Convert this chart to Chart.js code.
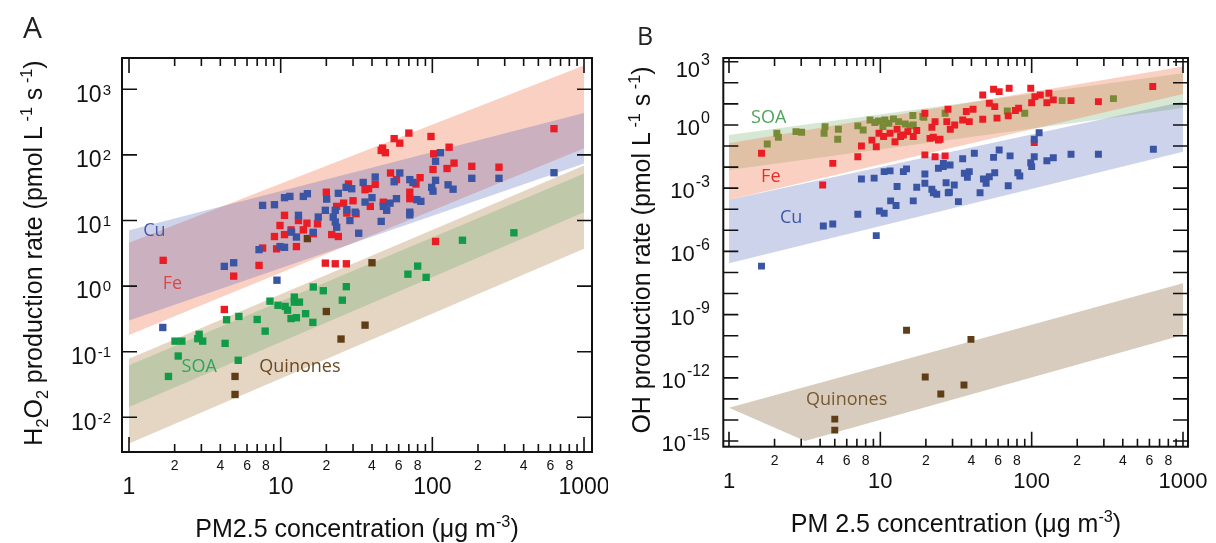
<!DOCTYPE html>
<html>
<head>
<meta charset="utf-8">
<script src="https://cdn.jsdelivr.net/npm/chart.js@4.4.1/dist/chart.umd.min.js"></script>
<style>
  html, body { margin: 0; padding: 0; background: #fff; }
  #wrap { position: relative; width: 1216px; height: 543px; }
  canvas { position: absolute; top: 0; }
</style>
</head>
<body>
<div id="wrap">
  <canvas id="chartA" width="608" height="543" style="left:0"></canvas>
  <canvas id="chartB" width="608" height="543" style="left:608px"></canvas>
</div>
<script>
// ---------- panel A : H2O2 production rate ----------
const feA = [[70,215],[98,191],[56,177],[61,151],[47,127],[46,117],[49,108],[129,131],[102,104],[139,75],
  [125,62],[101,60],[53,53],[83,45],[58,42],[78,36],[42,35.5],[36,29.5],[38,30.5],[28,36],[20,27],[71,27],
  [71,21.5],[30,20],[26,18.4],[23.4,16.4],[47.5,19],[39,16.4],[31.4,12.7],[27.3,13],[10.6,12],[13.1,10],
  [14.9,9.1],[17.5,8.9],[9.9,8.4],[11.7,7.2],[14.1,7.2],[10.6,6.1],[9.1,5.7],[16.4,6.3],[21.7,6.1],[24,5.7],
  [12.7,4.0],[7.6,3.8],[9.4,3.7],[7.2,2.07],[19.7,2.24],[22.9,2.19],[27.1,2.19],[105,4.8],[634,251],[182,67],
  [275,65],[1.68,2.47],[4.9,1.42],[4.25,0.44]];
const cuA = [[113,108],[105,80],[61,53],[56,39],[42,46],[35,38],[71,42],[74.5,38],[105,41],[99,32],[101,28],
  [127,35],[137,30],[27,32],[29.4,30.5],[24,26],[15,25.6],[14.1,23.3],[11.5,23.3],[10.6,22.3],[20.1,21.2],
  [40,22.3],[36,19.1],[58,21.5],[52.6,18.4],[47.5,16.4],[50,14.3],[79,20.8],[84,19.6],[71,13.4],[71,12.2],
  [27.3,14.6],[31,13.4],[22.9,14.3],[19.7,14.3],[22.2,11.3],[22.9,9.5],[23.4,7.9],[28.6,10],[17.7,11.3],
  [13.1,12],[9.1,17.4],[7.6,17],[46,9.7],[16.4,6.6],[32.7,6.4],[12.7,5.6],[11.8,6.65],[9.9,4.0],[10.6,3.9],
  [7.2,3.6],[4.9,2.27],[4.25,2.0],[9.45,1.23],[1.67,0.234],[634,53.5],[182,44],[275,44]];
const soaA = [[69,1.52],[80,2.02],[91,1.36],[158,5.0],[345,6.5],[16.4,0.97],[19.1,0.85],[27.1,0.98],[25.5,0.61],
  [8.5,0.59],[9.6,0.51],[10.7,0.49],[11.1,0.43],[12.3,0.68],[12.3,0.57],[13.3,0.57],[11.7,0.32],[12.7,0.33],
  [14.6,0.38],[16.3,0.28],[7.0,0.31],[7.9,0.206],[5.3,0.345],[4.4,0.307],[4.3,0.134],[2.9,0.184],[2.84,0.158],
  [3.06,0.145],[2.01,0.145],[2.23,0.145],[2.11,0.086],[5.25,0.074],[1.82,0.042]];
const quinA = [[15,5.3],[40,2.27],[20,0.41],[36,0.254],[25,0.156],[5.0,0.042],[5.0,0.0223]];

// model ranges (value at x = 1 and x = 1000)
const bandX = [1, 1000];
const feHiA = [4.6, 2300],  feLoA = [0.18, 126];
const cuHiA = [7.1, 434],   cuLoA = [0.3, 74];
const quHiA = [0.078, 69],  quLoA = [0.004, 3.7];
const soHiA = [0.062, 52],  soLoA = [0.0143, 13.4];

// ---------- panel B : OH production rate ----------
const soaB = [[1.79,0.125],[2.07,0.4],[2.12,0.26],[2.77,0.48],[3.02,0.45],[4.31,0.83],[4.25,0.4],[5.28,0.63],
  [5.23,0.21],[7.1,0.9],[7.7,0.58],[8.55,1.7],[9.7,1.55],[10.7,1.7],[12.2,1.9],[13.2,1.44],[14.6,1.11],
  [16.4,2.8],[16.5,1.0],[19.4,2.3],[10.4,0.83],[15.7,0.9],[19.1,2.5],[26.8,3.6],[69,4.6],[90,3.6],[159,14.2],
  [347,17.7],[9.2,1.3],[11.4,1.2]];
const feB = [[1.64,0.045],[4.85,0.015],[7.1,0.031],[7.5,0.1],[4.16,0.0014],[8.8,0.19],[9.4,0.093],[9.8,0.4],
  [10.5,0.28],[11.6,0.4],[12.5,0.16],[12.9,0.63],[13.6,0.28],[15.2,0.48],[16.5,0.28],[17.4,0.54],[19.7,3.6],
  [21.9,0.78],[23,1.44],[21.3,0.23],[24.2,0.19],[19.7,0.038],[23,0.031],[26.8,0.034],[631,66],[276,12.8],
  [182,14.2],[139,15.4],[126,11.4],[130,32],[114,26.5],[105,22],[98.6,55],[100,11.4],[71,55],[61,38],[56,49],
  [47.5,26.5],[52.5,10.7],[57,7.4],[41,5.6],[37,4.3],[28,5.6],[82,6.2],[70,2.7],[59,2.1],[47.5,1.87],
  [38.7,1.44],[35,1.7],[31,1.0],[27.5,1.44],[29,0.63],[24.8,0.21],[104,0.145],[14.2,0.33],[22.4,0.26],[78,4.8]];
const cuB = [[4.2,1.6e-5],[4.85,2e-5],[7.1,5.8e-5],[9.4,5.6e-6],[9.85,8.3e-5],[10.6,6.4e-5],[11.7,2.5e-4],
  [12.7,1.5e-4],[16.5,2.5e-4],[7.5,2.7e-3],[9.1,3e-3],[10.6,6.1e-3],[11.6,6.6e-3],[14.9,8.2e-3],[12.9,1.2e-3],
  [17.4,1.1e-3],[19.7,4.7e-3],[19.7,1.7e-3],[21.9,8.9e-4],[23.6,5.1e-4],[24.2,8.8e-3],[22.4,6.1e-4],
  [32.8,2.3e-4],[28.1,6.1e-4],[1.64,2e-7],[637,0.07],[276,0.041],[182,0.041],[139,0.028],[126,0.02],
  [104,0.031],[100,0.0105],[98.6,0.016],[112,0.43],[104,0.21],[81,0.0054],[83.5,0.0038],[72,0.034],
  [70,0.0013],[61,0.065],[56,0.029],[57,0.0054],[52.5,0.0035],[48,0.0027],[50,0.0017],[45.6,6.1e-4],
  [41.8,0.045],[38.7,0.0061],[37.6,0.0033],[35,0.025],[30.8,0.0014],[27.2,0.0018],[28.9,0.0126],
  [26.1,0.0105],[28.6,6.4e-4],[35.9,0.0051],[14.2,0.0061],[26.1,0.015]];
const quinB = [[5.0,1.1e-14],[5.0,3.3e-15],[14.9,1.8e-10],[39.7,6.7e-11],[19.8,1.1e-12],[35.7,4.6e-13],[25.1,1.7e-13]];

const feHiB = [0.135, 589],   feLoB = [2.8e-4, 29.7];
const soHiB = [0.335, 284],   soLoB = [0.0073, 6.3];
const cuHiB = [2.8e-4, 12.6], cuLoB = [2.7e-7, 0.054];
const quHiXB = [1, 1000],       quHiB = [3.8e-14, 3.1e-8];
const quLoXB = [1, 3.18, 1000], quLoB = [3.8e-14, 1e-15, 1.07e-10];

// tick labels
const yExpA = [3, 2, 1, 0, -1, -2];
const yExpB = [3, 0, -3, -6, -9, -12, -15];
const yTicksB = [3,2,1,0,-1,-2,-3,-4,-5,-6,-7,-8,-9,-10,-11,-12,-13,-14,-15];
const xMajor = [1, 10, 100, 1000];
const xMinorLab = [2, 4, 6, 8];

const HELV = '"Liberation Sans", Arial, sans-serif';
const MYR = '"Open Sans", "Noto Sans", sans-serif';

function toXY(arr) { return arr.map(([x, y]) => ({ x, y })); }

function pts(arr, color, order, r) {
  return { type: 'scatter', data: toXY(arr), pointStyle: 'rect', pointRadius: r, pointHoverRadius: r,
    backgroundColor: color, borderWidth: 0, order };
}

function band(xHi, hi, xLo, lo, color, order) {
  return [
    { type: 'line', data: xHi.map((x, i) => ({ x, y: hi[i] })), fill: '+1', backgroundColor: color,
      borderColor: 'transparent', borderWidth: 0, pointRadius: 0, showLine: true, order },
    { type: 'line', data: xLo.map((x, i) => ({ x, y: lo[i] })), fill: false,
      borderColor: 'transparent', borderWidth: 0, pointRadius: 0, showLine: true, order }
  ];
}

function drawRich(ctx, segs, x, y, size, fam) {
  segs.forEach(([t, s]) => {
    const fs = s ? size * 0.65 : size;
    ctx.font = fs + 'px ' + fam;
    const dy = s === 1 ? -size * 0.42 : (s === -1 ? size * 0.24 : 0);
    ctx.fillText(t, x, y + dy);
    x += ctx.measureText(t).width;
  });
}
function richWidth(ctx, segs, size, fam) {
  let w = 0;
  segs.forEach(([t, s]) => { ctx.font = (s ? size * 0.65 : size) + 'px ' + fam; w += ctx.measureText(t).width; });
  return w;
}

// frame, inward ticks, labels and titles
const deco = {
  id: 'deco',
  afterDraw(chart, args, o) {
    const ctx = chart.ctx, a = chart.chartArea, sx = chart.scales.x, sy = chart.scales.y;
    ctx.save();
    ctx.strokeStyle = '#111';
    ctx.lineWidth = 1.6;
    ctx.beginPath();
    for (let d = 1; d <= 1000; d *= 10) {
      const top = d === 1000 ? 1 : 9;
      for (let m = 1; m <= top; m++) {
        const px = sx.getPixelForValue(m * d);
        const len = m === 1 ? 15 : 8;
        ctx.moveTo(px, a.bottom); ctx.lineTo(px, a.bottom - len);
        ctx.moveTo(px, a.top); ctx.lineTo(px, a.top + len);
      }
    }
    o.yTicks.forEach(e => {
      const py = sy.getPixelForValue(Math.pow(10, e));
      ctx.moveTo(a.left, py); ctx.lineTo(a.left + 15, py);
      ctx.moveTo(a.right, py); ctx.lineTo(a.right - 15, py);
    });
    ctx.stroke();
    ctx.lineWidth = 2;
    ctx.strokeRect(a.left, a.top, a.right - a.left, a.bottom - a.top);

    ctx.fillStyle = '#111';
    // x tick labels
    ctx.textAlign = 'center';
    ctx.textBaseline = 'alphabetic';
    ctx.font = o.xMajorSize + 'px ' + HELV;
    xMajor.forEach(v => ctx.fillText(String(v), sx.getPixelForValue(v), a.bottom + 41.5));
    ctx.font = '14px ' + HELV;
    [1, 10, 100].forEach(d => xMinorLab.forEach(m =>
      ctx.fillText(String(m), sx.getPixelForValue(m * d), a.bottom + 18)));
    // y tick labels 10^n
    ctx.textAlign = 'left';
    o.yExp.forEach(e => {
      const py = sy.getPixelForValue(Math.pow(10, e)) + o.yDy + (e === o.yExp[0] ? o.topDy : 0);
      ctx.font = o.baseSize + 'px ' + HELV;
      const wb = ctx.measureText('10').width;
      ctx.font = o.expSize + 'px ' + HELV;
      const we = ctx.measureText(String(e)).width;
      const x0 = o.yRight - we - wb - 1;
      ctx.font = o.baseSize + 'px ' + HELV;
      ctx.fillText('10', x0, py);
      ctx.font = o.expSize + 'px ' + HELV;
      ctx.fillText(String(e), x0 + wb + 1, py - o.rise);
    });
    // axis titles
    const w1 = richWidth(ctx, o.xTitle, 25, HELV);
    drawRich(ctx, o.xTitle, o.xTitleX - w1 / 2, o.xTitleY, 25, HELV);
    const w2 = richWidth(ctx, o.yTitle, 25, HELV);
    ctx.save();
    ctx.translate(o.yTitleX, o.yTitleY);
    ctx.rotate(-Math.PI / 2);
    drawRich(ctx, o.yTitle, -w2 / 2, 0, 25, HELV);
    ctx.restore();
    // panel letter
    ctx.fillStyle = '#222';
    ctx.font = o.letterSize + 'px ' + MYR;
    ctx.fillText(o.letter, o.letterX, o.letterY);
    // band names
    ctx.font = '18px ' + MYR;
    o.names.forEach(([t, x, y, c]) => {
      ctx.fillStyle = c;
      ctx.fillText(t, sx.getPixelForValue(x), sy.getPixelForValue(y));
    });
    ctx.restore();
  }
};

function makeChart(id, datasets, pad, xr, yr, o) {
  return new Chart(document.getElementById(id), {
    type: 'scatter',
    data: { datasets },
    options: {
      responsive: false, animation: false, devicePixelRatio: 1, events: [],
      layout: { padding: pad },
      scales: {
        x: { type: 'logarithmic', min: xr[0], max: xr[1], display: false },
        y: { type: 'logarithmic', min: yr[0], max: yr[1], display: false }
      },
      plugins: { legend: { display: false }, tooltip: { enabled: false }, deco: o }
    },
    plugins: [deco]
  });
}

const FE_BAND = 'rgba(242,120,80,0.35)', CU_BAND = 'rgba(60,80,180,0.25)';
const RED = '#ec1c24', BLUE = '#3a55a4', GREEN = '#119a48', BROWN = '#5e3d17', OLIVE = '#788a36';

makeChart('chartA', [
  pts(cuA, BLUE, 0, 5.2),
  pts(feA, RED, 1, 5.2),
  pts(soaA, GREEN, 2, 5.2),
  pts(quinA, BROWN, 2, 5.2),
  ...band(bandX, cuHiA, bandX, cuLoA, CU_BAND, 5),
  ...band(bandX, feHiA, bandX, feLoA, FE_BAND, 6),
  ...band(bandX, soHiA, bandX, soLoA, 'rgba(40,150,60,0.2)', 7),
  ...band(bandX, quHiA, bandX, quLoA, 'rgba(170,120,60,0.3)', 8)
], { left: 122, top: 58, right: 16, bottom: 91 }, [0.899, 1129], [0.00296, 3000], {
  yTicks: yExpA, yExp: yExpA, yRight: 111, yDy: 12.3, topDy: 0, rise: 7, baseSize: 23, expSize: 15,
  xMajorSize: 23,
  xTitle: [['PM2.5 concentration (\u03bcg m', 0], ['-3', 1], [')', 0]], xTitleX: 357, xTitleY: 537,
  yTitle: [['H', 0], ['2', -1], ['O', 0], ['2', -1], [' production rate (pmol L', 0], [' -1', 1], [' s', 0], [' -1', 1], [')', 0]],
  yTitleX: 42, yTitleY: 253,
  letter: 'A', letterX: 23, letterY: 38, letterSize: 30,
  names: [['Cu', 1.24, 5.9, '#4659a8'], ['Fe', 1.67, 0.91, '#d8494c'], ['SOA', 2.22, 0.049, '#2ea55a'],
    ['Quinones', 7.23, 0.049, '#6b4a22']]
});

makeChart('chartB', [
  pts(quinB, BROWN, 0, 4.9),
  pts(cuB, BLUE, 1, 4.9),
  pts(feB, RED, 2, 4.9),
  pts(soaB, OLIVE, 3, 4.9),
  ...band(bandX, feHiB, bandX, feLoB, FE_BAND, 6),
  ...band(bandX, soHiB, bandX, soLoB, 'rgba(90,160,80,0.25)', 7),
  ...band(bandX, cuHiB, bandX, cuLoB, CU_BAND, 8),
  ...band(quHiXB, quHiB, quLoXB, quLoB, 'rgba(140,110,70,0.35)', 9)
], { left: 115.3, top: 58, right: 28, bottom: 96.3 }, [0.917, 1079], [5.4e-16, 1500], {
  yTicks: yTicksB, yExp: yExpB, yRight: 102, yDy: 10, topDy: 5, rise: 11.5, baseSize: 22, expSize: 16,
  xMajorSize: 22,
  xTitle: [['PM 2.5 concentration (\u03bcg m', 0], ['-3', 1], [')', 0]], xTitleX: 348, xTitleY: 532,
  yTitle: [['OH production rate (pmol L', 0], [' -1', 1], [' s', 0], [' -1', 1], [')', 0]],
  yTitleX: 42, yTitleY: 250,
  letter: 'B', letterX: 29, letterY: 45, letterSize: 25,
  names: [['SOA', 1.40, 1.2, '#4fa35a'], ['Fe', 1.63, 2.0e-3, '#ee2a2a'], ['Cu', 2.17, 2.2e-5, '#4055a8'],
    ['Quinones', 3.23, 5.1e-14, '#7a5a30']]
});
</script>
</body>
</html>
